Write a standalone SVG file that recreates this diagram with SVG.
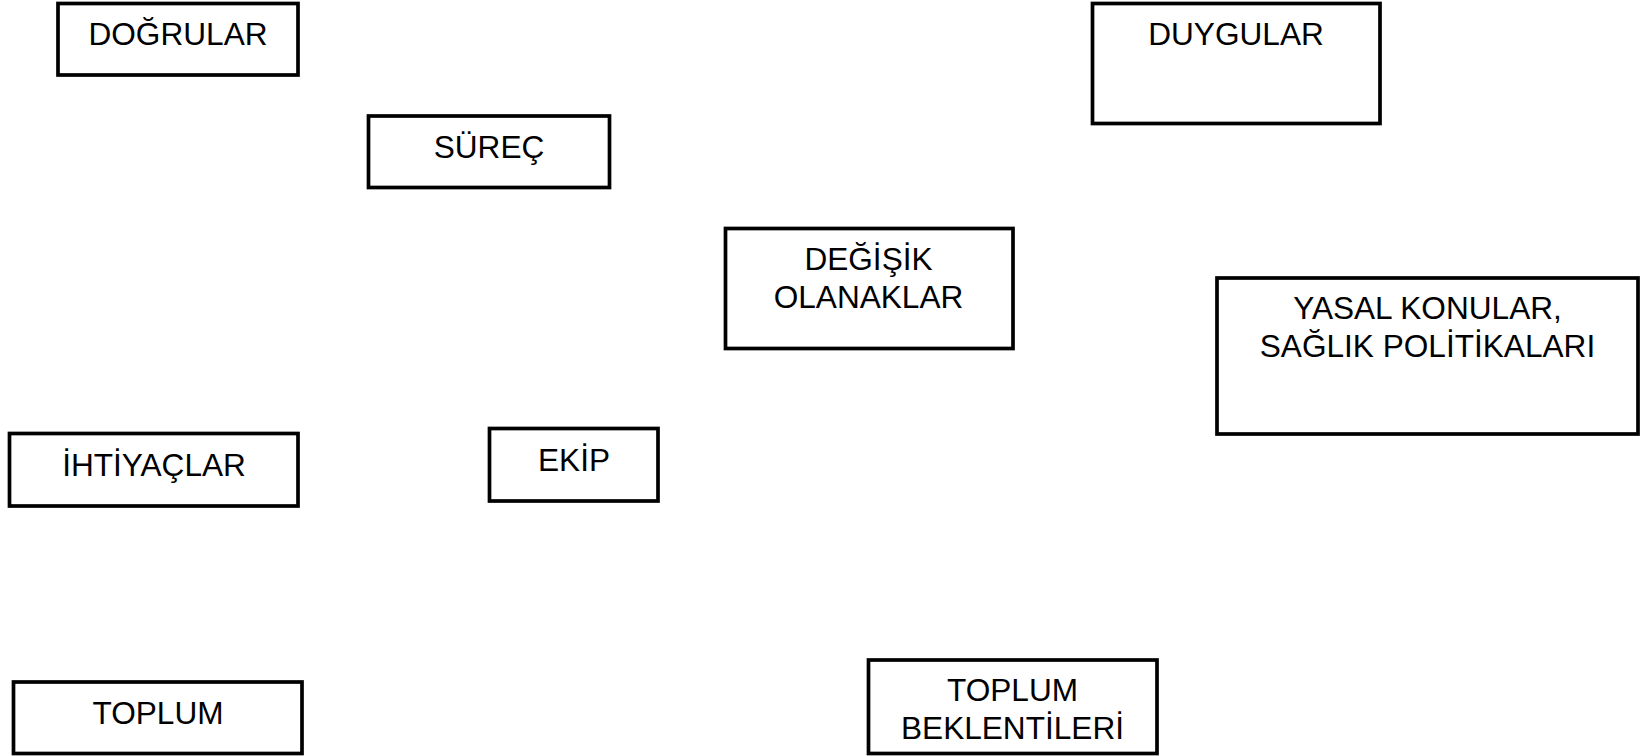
<svg xmlns="http://www.w3.org/2000/svg" width="1650" height="756" viewBox="0 0 1650 756">
<style>
.box{fill:#fff;stroke:#000;stroke-width:3.7}
.lbl{font-family:"Liberation Sans",Arial,sans-serif;font-size:31.6px;fill:#000;text-anchor:middle}
</style>
<rect width="1650" height="756" fill="#fff"/>
<g id="connectors"></g>
<g id="dogrular"><rect class="box" x="58" y="3.5" width="240" height="71.5"/><text class="lbl" x="178" y="44.5">DOĞRULAR</text></g>
<g id="surec"><rect class="box" x="368.5" y="116" width="241" height="71.5"/><text class="lbl" x="489" y="157.5">SÜREÇ</text></g>
<g id="duygular"><rect class="box" x="1092.5" y="3.5" width="287.5" height="120"/><text class="lbl" x="1236" y="44.5">DUYGULAR</text></g>
<g id="degisik"><rect class="box" x="725.5" y="228.5" width="287.5" height="120"/><text class="lbl" x="868.5" y="270">DEĞİŞİK</text><text class="lbl" x="868.5" y="308">OLANAKLAR</text></g>
<g id="yasal"><rect class="box" x="1217" y="278" width="421" height="156"/><text class="lbl" x="1427.5" y="318.5">YASAL KONULAR,</text><text class="lbl" x="1427.5" y="356.5">SAĞLIK POLİTİKALARI</text></g>
<g id="ihtiyaclar"><rect class="box" x="9.5" y="433.5" width="288.5" height="72.5"/><text class="lbl" x="154" y="475.5">İHTİYAÇLAR</text></g>
<g id="ekip"><rect class="box" x="489.5" y="428.5" width="168.5" height="72.5"/><text class="lbl" x="574" y="471">EKİP</text></g>
<g id="toplum"><rect class="box" x="13.5" y="682" width="288.5" height="71.5"/><text class="lbl" x="158" y="723.5">TOPLUM</text></g>
<g id="beklentiler"><rect class="box" x="868.5" y="660" width="288.5" height="93.5"/><text class="lbl" x="1012.5" y="700.5">TOPLUM</text><text class="lbl" x="1012.5" y="738.5">BEKLENTİLERİ</text></g>
</svg>
